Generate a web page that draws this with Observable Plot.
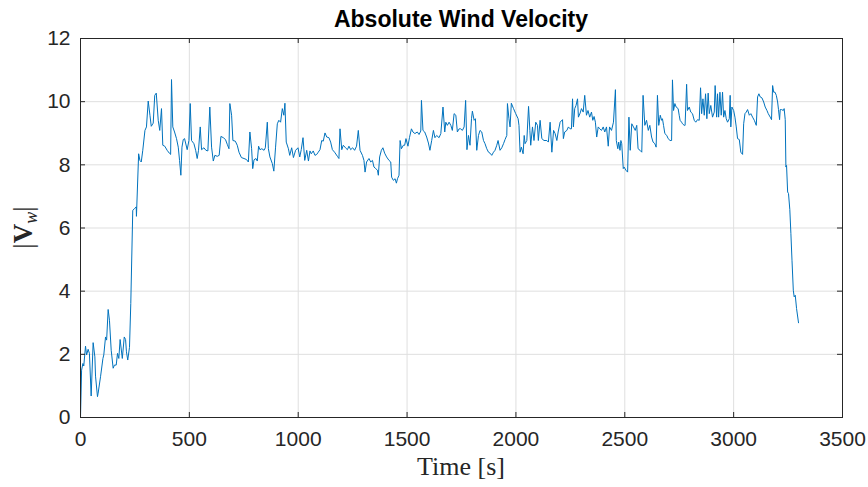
<!DOCTYPE html>
<html>
<head>
<meta charset="utf-8">
<script src="https://cdn.jsdelivr.net/npm/d3@7"></script>
<script src="https://cdn.jsdelivr.net/npm/@observablehq/plot@0.6"></script>
<style>
  html, body { margin: 0; padding: 0; background: #ffffff; }
  #chart svg { display: block; }
</style>
</head>
<body>
<div id="chart"></div>
<script>
// Absolute wind velocity |Vw| over the flight, sampled in seconds.
const TIME = [
  0, 5, 11, 15, 23, 28, 35, 41, 49, 58, 66, 69, 78, 81, 92, 103, 107, 115, 120, 127,
  133, 141, 150, 156, 164, 170, 176, 182, 192, 201, 207, 211, 217, 225, 231, 240, 248, 256, 257, 267,
  273, 279, 286, 296, 303, 311, 319, 325, 334, 341, 348, 357, 364, 372, 378, 387, 398, 408, 414, 418,
  424, 432, 441, 449, 455, 461, 466, 472, 478, 490, 498, 504, 510, 521, 529, 536, 542, 550, 556, 567,
  576, 585, 594, 602, 610, 617, 628, 637, 645, 656, 666, 674, 682, 686, 694, 700, 711, 720, 728, 739,
  751, 762, 771, 778, 786, 791, 797, 806, 812, 818, 824, 833, 843, 849, 858, 863, 870, 881, 888, 896,
  904, 911, 919, 927, 934, 939, 945, 955, 961, 970, 978, 988, 999, 1007, 1014, 1022, 1030, 1039, 1047, 1054,
  1060, 1069, 1077, 1085, 1092, 1100, 1108, 1115, 1123, 1131, 1141, 1149, 1157, 1167, 1180, 1187, 1192, 1200, 1207, 1217,
  1226, 1233, 1241, 1250, 1259, 1268, 1276, 1284, 1295, 1302, 1307, 1314, 1325, 1333, 1341, 1348, 1356, 1364, 1368, 1374,
  1382, 1389, 1397, 1406, 1417, 1425, 1429, 1437, 1445, 1451, 1456, 1463, 1468, 1474, 1483, 1489, 1495, 1504, 1511, 1520,
  1527, 1536, 1547, 1555, 1563, 1566, 1573, 1581, 1590, 1598, 1605, 1613, 1621, 1628, 1636, 1647, 1655, 1665, 1673, 1678,
  1685, 1693, 1701, 1708, 1716, 1724, 1731, 1739, 1746, 1754, 1762, 1769, 1775, 1782, 1789, 1796, 1800, 1808, 1814, 1820,
  1828, 1835, 1843, 1851, 1858, 1866, 1874, 1881, 1889, 1897, 1904, 1912, 1918, 1927, 1935, 1943, 1950, 1958, 1961, 1968,
  1973, 1979, 1989, 1999, 2010, 2014, 2019, 2025, 2033, 2038, 2042, 2050, 2058, 2064, 2068, 2076, 2083, 2091, 2099, 2103,
  2111, 2119, 2129, 2142, 2149, 2157, 2165, 2173, 2180, 2188, 2194, 2203, 2214, 2218, 2224, 2234, 2241, 2249, 2255, 2260,
  2264, 2270, 2276, 2283, 2287, 2295, 2301, 2309, 2316, 2324, 2331, 2339, 2347, 2353, 2359, 2365, 2371, 2378, 2385, 2393,
  2401, 2408, 2416, 2424, 2430, 2439, 2448, 2457, 2461, 2468, 2472, 2478, 2482, 2486, 2493, 2497, 2505, 2513, 2519, 2525,
  2532, 2540, 2548, 2555, 2561, 2570, 2578, 2584, 2592, 2600, 2608, 2615, 2623, 2630, 2638, 2644, 2650, 2656, 2663, 2669,
  2673, 2678, 2684, 2693, 2699, 2708, 2715, 2719, 2724, 2730, 2736, 2745, 2750, 2754, 2761, 2765, 2773, 2777, 2784, 2788,
  2796, 2803, 2811, 2819, 2826, 2834, 2842, 2848, 2853, 2859, 2865, 2871, 2877, 2883, 2888, 2895, 2903, 2911, 2915, 2922,
  2926, 2931, 2937, 2943, 2949, 2954, 2960, 2966, 2972, 2980, 2984, 2987, 2992, 3000, 3006, 3012, 3018, 3026, 3033, 3041,
  3046, 3052, 3058, 3064, 3072, 3079, 3087, 3095, 3104, 3110, 3116, 3122, 3130, 3138, 3145, 3153, 3159, 3168, 3174, 3179,
  3184, 3190, 3196, 3202, 3206, 3211, 3214, 3220, 3228, 3232, 3237, 3240, 3243, 3248, 3252, 3258, 3263, 3268, 3274, 3278,
  3283, 3289, 3298
];

const VELOCITY = [
  0.00, 1.50, 1.71, 1.63, 2.26, 1.98, 2.16, 2.03, 0.68, 2.37, 1.92, 1.31, 0.66, 0.77, 1.29, 1.87, 1.98, 2.55, 2.45, 3.42,
  3.08, 2.13, 1.56, 1.66, 1.66, 2.03, 1.87, 2.47, 1.87, 2.55, 2.47, 2.08, 1.82, 2.22, 3.61, 6.56, 6.61, 6.67, 6.37, 8.35,
  8.14, 8.09, 8.46, 9.09, 9.20, 10.02, 9.57, 9.22, 9.32, 10.20, 10.27, 9.41, 9.09, 9.78, 8.62, 8.59, 8.46, 8.37, 8.33, 10.70,
  9.20, 9.04, 8.83, 8.56, 8.14, 7.67, 8.56, 8.80, 8.83, 8.48, 8.77, 9.94, 8.77, 8.67, 8.46, 8.20, 8.46, 9.20, 8.48, 8.54,
  8.46, 8.44, 9.83, 8.56, 8.12, 8.30, 8.27, 8.30, 8.90, 8.86, 8.80, 8.65, 8.51, 9.94, 9.57, 8.77, 8.75, 8.62, 8.40, 8.23,
  8.20, 8.17, 8.09, 9.04, 8.51, 7.88, 8.16, 8.20, 8.12, 8.59, 8.48, 8.51, 8.46, 8.54, 9.35, 8.51, 8.25, 8.04, 7.80, 8.56,
  9.30, 9.41, 9.35, 9.78, 9.57, 9.95, 8.72, 8.51, 8.30, 8.54, 8.23, 8.46, 8.54, 8.25, 8.48, 8.86, 8.14, 8.46, 8.12, 8.44,
  8.35, 8.44, 8.30, 8.33, 8.40, 8.48, 8.77, 8.75, 9.01, 8.88, 8.86, 8.72, 8.48, 8.40, 8.27, 8.20, 9.14, 8.48, 8.62, 8.54,
  8.48, 8.59, 8.48, 8.54, 8.46, 8.59, 9.09, 8.46, 8.30, 8.14, 7.77, 8.09, 8.20, 8.09, 8.14, 7.93, 7.88, 7.83, 7.67, 8.25,
  8.46, 8.54, 8.37, 8.25, 8.14, 8.09, 7.61, 7.51, 7.56, 7.42, 7.56, 7.67, 8.77, 8.51, 8.62, 8.62, 8.83, 8.59, 8.86, 9.14,
  9.04, 8.99, 9.04, 8.96, 9.07, 10.04, 9.09, 9.04, 8.88, 8.69, 8.46, 8.77, 9.09, 8.86, 8.93, 8.86, 8.99, 9.83, 9.04, 9.35,
  9.25, 9.35, 9.25, 9.09, 9.62, 9.57, 9.04, 9.14, 9.14, 9.09, 9.20, 10.04, 8.48, 8.93, 8.62, 9.46, 9.70, 9.41, 9.46, 8.46,
  8.93, 9.09, 9.04, 8.77, 8.67, 8.51, 8.40, 8.37, 8.30, 8.40, 8.46, 8.62, 8.77, 8.46, 8.54, 8.67, 8.80, 8.93, 9.94, 9.46,
  9.20, 9.95, 9.78, 9.62, 9.46, 9.25, 8.40, 8.56, 8.35, 8.93, 8.67, 8.77, 9.85, 9.09, 8.62, 9.20, 8.77, 9.35, 9.25, 8.77,
  9.41, 8.83, 8.77, 8.77, 8.72, 9.35, 8.40, 9.09, 8.99, 8.77, 9.04, 9.35, 9.43, 8.83, 9.04, 9.09, 9.20, 9.14, 9.14, 10.09,
  9.20, 9.78, 9.88, 10.09, 9.51, 9.64, 9.78, 9.67, 10.20, 9.57, 9.72, 9.51, 9.67, 9.41, 9.53, 9.35, 8.88, 9.20, 9.14, 9.09,
  9.20, 9.04, 9.20, 8.59, 9.20, 9.09, 9.35, 10.38, 8.77, 8.51, 8.72, 8.46, 8.77, 8.67, 7.88, 7.93, 7.83, 7.77, 9.51, 8.46,
  9.30, 9.20, 9.09, 9.25, 8.51, 8.46, 8.40, 10.20, 9.25, 9.41, 9.09, 9.25, 8.88, 8.72, 8.67, 8.56, 10.20, 9.25, 9.57, 9.41,
  9.46, 9.25, 8.99, 8.93, 8.83, 8.77, 8.77, 10.69, 9.72, 9.94, 9.83, 9.78, 9.57, 9.41, 9.35, 9.30, 9.25, 9.25, 10.55, 9.72,
  9.83, 9.67, 9.62, 9.41, 9.35, 9.43, 9.41, 10.44, 9.62, 10.09, 9.57, 10.25, 9.46, 10.27, 9.62, 9.88, 9.51, 9.67, 10.51, 9.51,
  10.25, 9.51, 10.30, 9.57, 10.30, 9.51, 9.72, 9.46, 9.35, 9.46, 10.20, 9.20, 9.83, 9.72, 9.51, 9.20, 8.83, 8.80, 8.40, 8.33,
  9.30, 9.62, 9.67, 9.75, 9.57, 9.62, 9.51, 9.41, 9.25, 10.15, 10.25, 10.15, 10.12, 9.99, 9.83, 9.72, 9.62, 9.51, 9.43, 10.51,
  10.30, 10.30, 10.20, 9.99, 9.75, 9.43, 9.75, 9.75, 9.72, 9.78, 9.43, 7.93, 7.98, 7.14, 7.09, 6.58, 5.82, 4.98, 4.03, 3.82,
  3.87, 3.45, 3.00
];

const X_TICKS = [0, 500, 1000, 1500, 2000, 2500, 3000, 3500];
const Y_TICKS = [0, 2, 4, 6, 8, 10, 12];

const TITLE = "Absolute Wind Velocity";
const X_LABEL = "Time [s]";

const samples = TIME.map((t, i) => ({t, v: VELOCITY[i]}));

const W = 868, H = 487;
const M = {top: 38, right: 26, bottom: 70, left: 80};
const innerW = W - M.left - M.right;
const innerH = H - M.top - M.bottom;
const TICK = 5;
const ink = "#262626";
const plain = d => String(d);

const chart = Plot.plot({
  width: W,
  height: H,
  marginTop: M.top,
  marginRight: M.right,
  marginBottom: M.bottom,
  marginLeft: M.left,
  style: {
    fontFamily: "'Liberation Sans', Arial, Helvetica, sans-serif",
    fontSize: "21px",
    color: ink,
    background: "#ffffff"
  },
  x: {domain: [0, 3500]},
  y: {domain: [0, 12]},
  marks: [
    // grid
    Plot.ruleX(X_TICKS, {stroke: "#dfdfdf", strokeWidth: 1}),
    Plot.ruleY(Y_TICKS, {stroke: "#dfdfdf", strokeWidth: 1}),
    // series
    Plot.line(samples, {x: "t", y: "v", stroke: "#0072bd", strokeWidth: 1}),
    // box
    Plot.frame({stroke: ink, strokeWidth: 1}),
    // inward tick marks on all four sides
    Plot.ruleX(X_TICKS, {stroke: ink, insetTop: innerH - TICK}),
    Plot.ruleX(X_TICKS, {stroke: ink, insetBottom: innerH - TICK}),
    Plot.ruleY(Y_TICKS, {stroke: ink, insetRight: innerW - TICK}),
    Plot.ruleY(Y_TICKS, {stroke: ink, insetLeft: innerW - TICK}),
    // tick labels
    Plot.axisX(X_TICKS, {tickSize: 0, tickPadding: 14, label: null, fill: ink, tickFormat: plain}),
    Plot.axisY(Y_TICKS, {tickSize: 0, tickPadding: 10, label: null, fill: ink, tickFormat: plain})
  ]
});

const svg = d3.select(chart);

svg.append("text")
  .attr("x", M.left + innerW / 2)
  .attr("y", 27)
  .attr("text-anchor", "middle")
  .attr("font-family", "'Liberation Sans', Arial, Helvetica, sans-serif")
  .attr("font-weight", "bold")
  .attr("font-size", 23)
  .attr("fill", "#000000")
  .text(TITLE);

svg.append("text")
  .attr("x", M.left + innerW / 2)
  .attr("y", 475)
  .attr("text-anchor", "middle")
  .attr("font-family", "'Liberation Serif', 'DejaVu Serif', serif")
  .attr("font-size", 26)
  .attr("fill", ink)
  .text(X_LABEL);

const yl = svg.append("text")
  .attr("transform", `translate(32,${M.top + innerH / 2}) rotate(-90)`)
  .attr("text-anchor", "middle")
  .attr("font-family", "'Liberation Serif', 'DejaVu Serif', serif")
  .attr("font-size", 27)
  .attr("fill", ink);
yl.append("tspan").text("|");
yl.append("tspan").attr("font-weight", "bold").text("V");
yl.append("tspan").attr("font-style", "italic").attr("font-size", 18).attr("dy", 5).text("w");
yl.append("tspan").attr("dy", -5).text("|");

document.getElementById("chart").appendChild(chart);
</script>
</body>
</html>
